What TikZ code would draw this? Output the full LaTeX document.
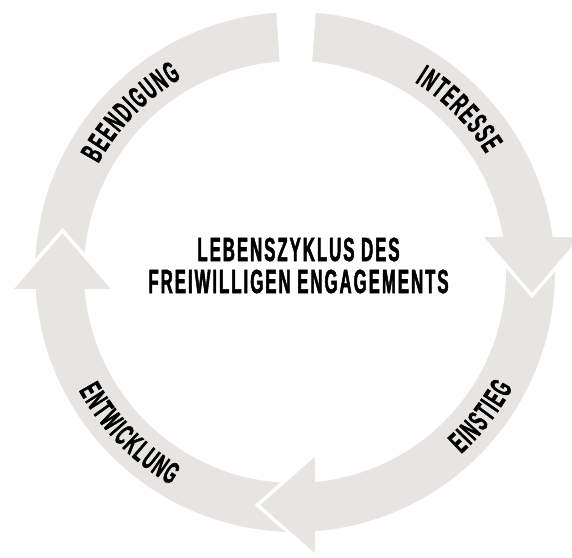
\documentclass[tikz,border=0pt]{standalone}
\usepackage{fontspec}
\newfontfamily\cyclefont[FakeStretch=0.5, FakeBold=1.5, LetterSpace=6]{Liberation Sans}
\usepackage{tikz}
\usetikzlibrary{decorations.text}
\definecolor{cyclegray}{RGB}{230,229,225}
\newcommand{\stagefont}{\cyclefont\bfseries\fontsize{30.7}{30}\selectfont\kern1.84pt\relax}
\newcommand{\titlefont}{\cyclefont\bfseries\fontsize{33.5}{32}\selectfont}
\tikzset{
  stage/.style={fill=cyclegray, draw=white, line width=3.5pt, line join=miter},
  stagelabel/.style={decorate, decoration={text along path, text align=center, text={|\stagefont|#1}}},
}

\begin{document}
\begin{tikzpicture}[x=1pt, y=1pt]
	\useasboundingbox (-295,-285) rectangle (277,272);
	% Beendigung (no head, flat end at the top)
	\draw[stage] (180:261.75) arc[start angle=180, end angle=93.71, radius=261.75pt] -- (93.71:209.25) arc[start angle=93.71, end angle=180, radius=209.25pt] -- cycle;
	% Entwicklung
	\draw[stage] (-89:261.75) arc[start angle=-89, end angle=-175.89, radius=261.75pt] -- (-284.9,-18.75) -- (-232.5,41.6) -- (-180.1,-18.75) -- (-174.86:209.25) arc[start angle=-174.86, end angle=-89, radius=209.25pt] -- cycle;
	% Einstieg
	\draw[stage] (7:261.75) arc[start angle=7, end angle=-85.23, radius=261.75pt] -- (21.75,-285.4) -- (-37.6,-233) -- (21.75,-180.6) -- (-84.03:209.25) arc[start angle=-84.03, end angle=7, radius=209.25pt] -- cycle;
	% Interesse
	\draw[stage] (85.8:261.75) arc[start angle=85.8, end angle=8.07, radius=261.75pt] -- (289,36.75) -- (237,-23.5) -- (185,36.75) -- (10.11:209.25) arc[start angle=10.11, end angle=85.8, radius=209.25pt] -- cycle;
	% labels along the ring
	\path[stagelabel={INTERESSE}] (75:224.5) arc[start angle=75, end angle=15, radius=224.5pt];
	\path[stagelabel={BEENDIGUNG}] (166:224.5) arc[start angle=166, end angle=106, radius=224.5pt];
	\path[stagelabel={EINSTIEG}] (-68:246.5) arc[start angle=-68, end angle=-8, radius=246.5pt];
	\path[stagelabel={ENTWICKLUNG}] (-166:246.5) arc[start angle=-166, end angle=-106, radius=246.5pt];
	\node[font=\titlefont, align=center, inner sep=0pt] (title) at (3.5,6.5) {LEBENSZYKLUS DES\\FREIWILLIGEN ENGAGEMENTS};
\end{tikzpicture}
\end{document}
